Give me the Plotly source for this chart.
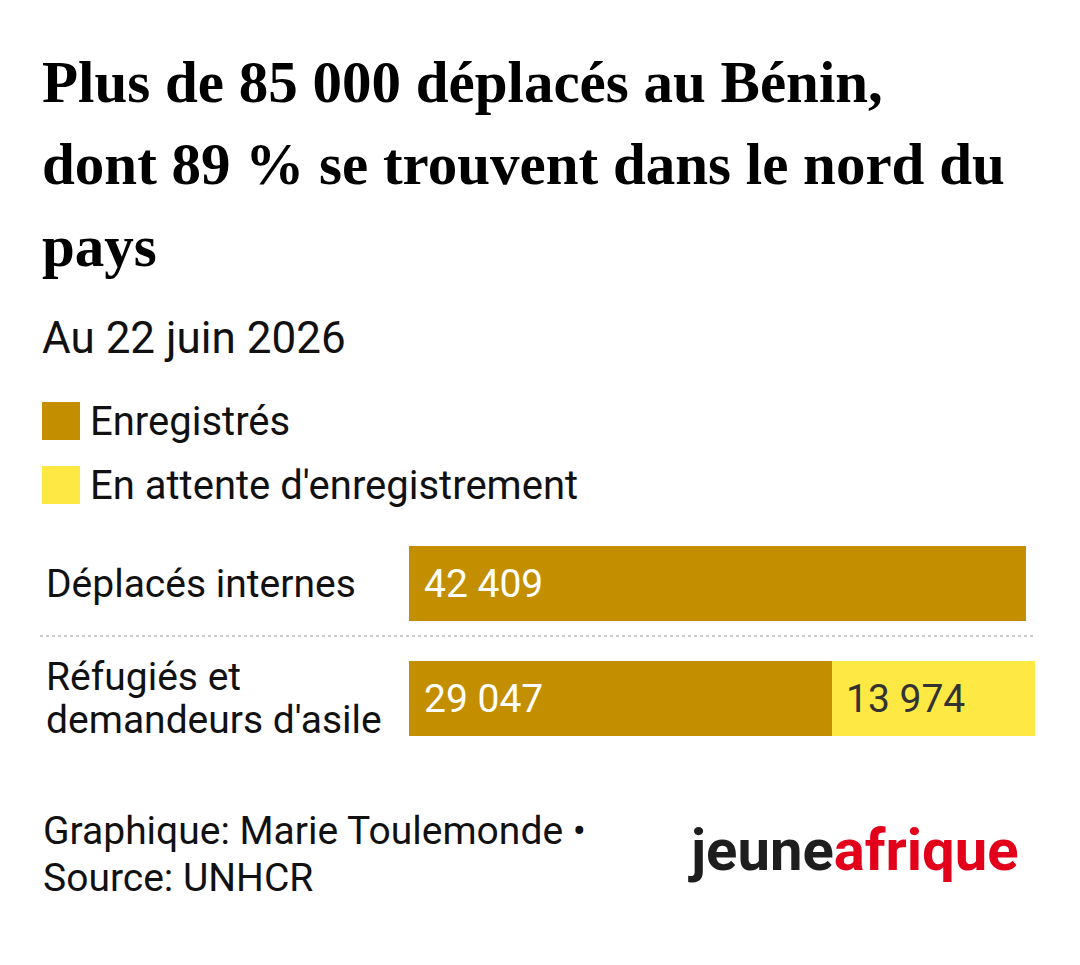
import plotly.graph_objects as go

W, H = 1080, 965

categories = ["Déplacés internes", "Réfugiés et<br>demandeurs d'asile"]
series_names = ["Enregistrés", "En attente d'enregistrement"]
registered = [42409, 29047]
pending = [0, 13974]

GOLD = "#C38F00"
YELLOW = "#FEE843"
RED = "#E2001A"

title_lines = ["Plus de 85 000 déplacés au Bénin,", "dont 89 % se trouvent dans le nord du", "pays"]
subtitle = "Au 22 juin 2026"
footer_lines = ["Graphique: Marie Toulemonde •", "Source: UNHCR"]

def px(x):
    return x / W

def py(y):
    return 1 - y / H

fig = go.Figure()
fig.add_trace(go.Bar(y=categories, x=registered, orientation="h", name=series_names[0],
                     marker=dict(color=GOLD, line=dict(width=0)), showlegend=False, hoverinfo="skip"))
fig.add_trace(go.Bar(y=categories, x=pending, orientation="h", name=series_names[1],
                     marker=dict(color=YELLOW, line=dict(width=0)), showlegend=False, hoverinfo="skip"))

total_max = max(r + p for r, p in zip(registered, pending))

def fmt(v):
    return f"{v:,}".replace(",", " ")

annotations = []
# value labels
for cat, r, p in zip(categories, registered, pending):
    if r > 0:
        annotations.append(dict(x=0, y=cat, xref="x", yref="y", text=fmt(r), showarrow=False,
                                xanchor="left", yanchor="middle", xshift=13,
                                font=dict(family="Roboto", size=39, color="#FFFFFF")))
    if p > 0:
        annotations.append(dict(x=r, y=cat, xref="x", yref="y", text=fmt(p), showarrow=False,
                                xanchor="left", yanchor="middle", xshift=12,
                                font=dict(family="Roboto", size=39, color="#333333")))

# category labels (multi-line with tighter leading)
LEAD = 43
for cat in categories:
    parts = cat.split("<br>")
    n = len(parts)
    for i, part in enumerate(parts):
        annotations.append(dict(x=px(44), y=cat, xref="paper", yref="y", text=part, showarrow=False,
                                xanchor="left", yanchor="middle", align="left",
                                yshift=((n - 1) / 2 - i) * LEAD,
                                font=dict(family="Roboto", size=39, color="#111111")))

# title
for i, line in enumerate(title_lines):
    annotations.append(dict(x=px(40), y=py(82 + 82 * i), xref="paper", yref="paper", text="<b>" + line + "</b>",
                            showarrow=False, xanchor="left", yanchor="middle",
                            font=dict(family="Liberation Serif", size=59, color="#000000")))

annotations.append(dict(x=px(40), y=py(338), xref="paper", yref="paper", text=subtitle, showarrow=False,
                        xanchor="left", yanchor="middle",
                        font=dict(family="Roboto", size=44, color="#111111")))

# legend
leg_y = [421, 485]
leg_cols = [GOLD, YELLOW]
shapes = []
for name, yy, col in zip(series_names, leg_y, leg_cols):
    shapes.append(dict(type="rect", xref="paper", yref="paper", x0=px(42), x1=px(80),
                       y0=py(yy - 19), y1=py(yy + 19), fillcolor=col, line=dict(width=0)))
    annotations.append(dict(x=px(88), y=py(yy), xref="paper", yref="paper", text=name, showarrow=False,
                            xanchor="left", yanchor="middle",
                            font=dict(family="Roboto", size=40, color="#111111")))

# dotted separator
shapes.append(dict(type="line", xref="paper", yref="paper", x0=px(40), x1=px(1035), y0=py(636), y1=py(636),
                   line=dict(color="#CCCCCC", width=2, dash="dot")))

# footer
for i, line in enumerate(footer_lines):
    annotations.append(dict(x=px(41), y=py(831 + 47 * i), xref="paper", yref="paper", text=line, showarrow=False,
                            xanchor="left", yanchor="middle", align="left",
                            font=dict(family="Roboto", size=39, color="#111111")))

# logo
annotations.append(dict(x=px(686), y=py(850), xref="paper", yref="paper",
                        text="<b><span style='color:#1E1E1E'>jeune</span><span style='color:%s'>afrique</span></b>" % RED,
                        showarrow=False, xanchor="left", yanchor="middle",
                        font=dict(family="Roboto", size=58, color="#1E1E1E")))

fig.update_layout(
    width=W, height=H, autosize=False,
    margin=dict(l=0, r=0, t=0, b=0),
    paper_bgcolor="#FFFFFF", plot_bgcolor="#FFFFFF",
    barmode="stack", bargap=1 - 75 / 115,
    showlegend=False,
    xaxis=dict(domain=[px(409), px(1035)], range=[0, total_max], visible=False, fixedrange=True),
    yaxis=dict(domain=[py(756), py(526)], range=[1.5, -0.5], visible=False, fixedrange=True,
               type="category"),
    annotations=annotations,
    shapes=shapes,
)

fig.write_html("out.html")
